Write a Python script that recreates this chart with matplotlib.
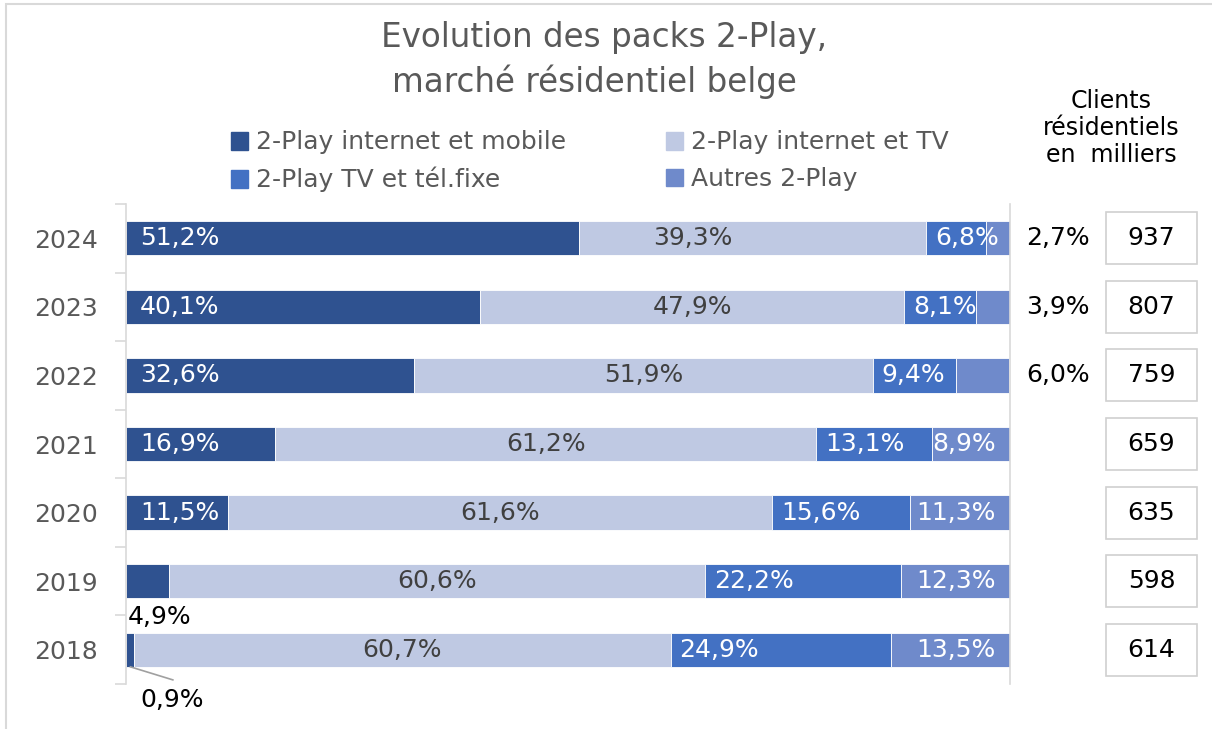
import matplotlib.pyplot as plt
from matplotlib.patches import Rectangle, Patch

years = ['2018', '2019', '2020', '2021', '2022', '2023', '2024']
mobile = [0.9, 4.9, 11.5, 16.9, 32.6, 40.1, 51.2]
tv = [60.7, 60.6, 61.6, 61.2, 51.9, 47.9, 39.3]
fixe = [24.9, 22.2, 15.6, 13.1, 9.4, 8.1, 6.8]
autres = [13.5, 12.3, 11.3, 8.9, 6.0, 3.9, 2.7]
clients = [614, 598, 635, 659, 759, 807, 937]
series_names = ['2-Play internet et mobile', '2-Play internet et TV',
                '2-Play TV et tél.fixe', 'Autres 2-Play']
colors = ['#2F5290', '#BFC9E3', '#4371C3', '#6F8ACB']

def fmt(v):
    return ('%.1f%%' % v).replace('.', ',')

fig = plt.figure(figsize=(12.12, 7.29), dpi=100)
ax = fig.add_axes([126/1212, 1-684/729, 884/1212, 480/729])

y = list(range(len(years)))
h = 0.5
left2 = [m for m in mobile]
left3 = [m + t for m, t in zip(mobile, tv)]
left4 = [m + t + f for m, t, f in zip(mobile, tv, fixe)]
ax.barh(y, mobile, h, color=colors[0], edgecolor='white', linewidth=0.6)
ax.barh(y, tv, h, left=left2, color=colors[1], edgecolor='white', linewidth=0.6)
ax.barh(y, fixe, h, left=left3, color=colors[2], edgecolor='white', linewidth=0.6)
ax.barh(y, autres, h, left=left4, color=colors[3], edgecolor='white', linewidth=0.6)

fs = 18
for i in y:
    # internet et mobile
    if mobile[i] > 10:
        ax.text(1.6, i, fmt(mobile[i]), color='white', fontsize=fs, va='center', ha='left')
    # internet et TV
    xc = left2[i] + tv[i] / 2
    if years[i] == '2024':
        xc -= 6.7
    ax.text(xc, i, fmt(tv[i]), color='#404040', fontsize=fs, va='center', ha='center')
    # TV et tel.fixe
    ax.text(left3[i] + 1.0, i, fmt(fixe[i]), color='white', fontsize=fs, va='center', ha='left')
    # autres
    if autres[i] > 8:
        ax.text(98.4, i, fmt(autres[i]), color='white', fontsize=fs, va='center', ha='right')
    else:
        ax.text(101.8, i, fmt(autres[i]), color='black', fontsize=fs, va='center', ha='left',
                clip_on=False)
    # clients
    ax.add_patch(Rectangle((116.0 - 5.15, i - 0.38), 10.3, 0.76, transform=ax.transData,
                           facecolor='white', edgecolor='#D0D0D0', lw=1.2, clip_on=False))
    ax.text(116.0, i, str(clients[i]), fontsize=fs, va='center', ha='center', clip_on=False)

# small labels outside
ax.text(0.2, 0.47, fmt(mobile[1]), fontsize=fs, va='center', ha='left', color='black')
ax.text(1.6, -0.73, fmt(mobile[0]), fontsize=fs, va='center', ha='left', color='black',
        clip_on=False)
ax.plot([0.5, 5.3], [-0.25, -0.44], color='#A0A0A0', lw=1.2, clip_on=False)

ax.set_xlim(0, 100)
ax.set_ylim(-0.5, 6.5)
ax.set_xticks([])
ax.set_yticks(y)
ax.set_yticklabels(years, fontsize=fs, color='#595959')
ax.set_yticks([k - 0.5 for k in range(len(years) + 1)], minor=True)
ax.tick_params(axis='y', which='major', length=0, pad=20)
ax.tick_params(axis='y', which='minor', length=8, color='#D9D9D9', width=1.2)
for s in ['top', 'bottom']:
    ax.spines[s].set_visible(False)
ax.spines['left'].set_color('#D9D9D9')
ax.spines['left'].set_linewidth(1.2)
ax.spines['right'].set_color('#D9D9D9')
ax.spines['right'].set_linewidth(1.2)

fig.text(604/1212, 1-38/729, 'Evolution des packs 2-Play,', fontsize=23.5, color='#595959',
         ha='center', va='center')
fig.text(594/1212, 1-82/729, 'marché résidentiel belge', fontsize=23.5, color='#595959',
         ha='center', va='center')

handles = [Patch(color=colors[0]), Patch(color=colors[2]), Patch(color=colors[1]), Patch(color=colors[3])]
labels = [series_names[0], series_names[2], series_names[1], series_names[3]]
leg = fig.legend(handles, labels, ncol=2, loc='upper left', bbox_to_anchor=(218/1212, 1-118/729),
                 frameon=False, fontsize=fs, handlelength=0.7, handleheight=0.7,
                 handletextpad=0.3, columnspacing=4.0, labelspacing=0.5, borderpad=0)
for t in leg.get_texts():
    t.set_color('#595959')

fig.text(1111/1212, 1-128/729, 'Clients\nrésidentiels\nen  milliers', fontsize=17,
         ha='center', va='center', multialignment='center', linespacing=1.15)

fig.add_artist(Rectangle((6/1212, -0.05), 1.2, 1-4/729 + 0.05, transform=fig.transFigure,
                         facecolor='none', edgecolor='#D9D9D9', lw=1.5))

fig.savefig('out.png', dpi=100)
